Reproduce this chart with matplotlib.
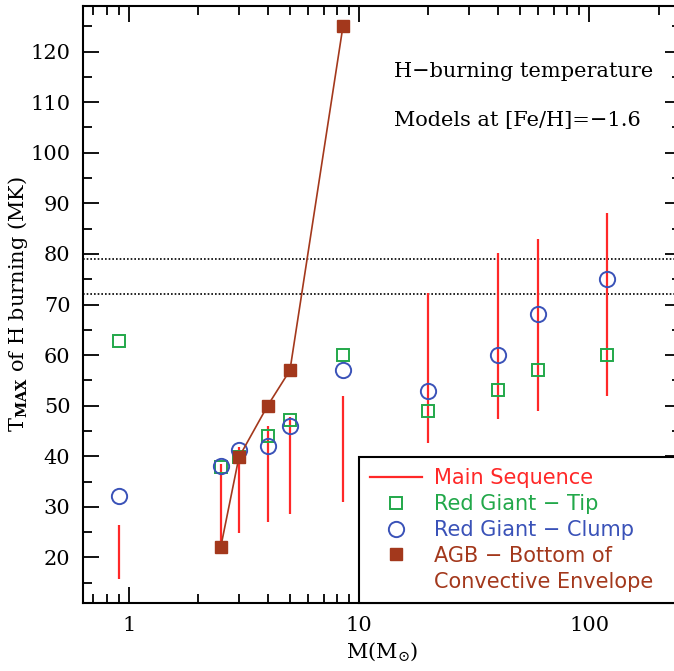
#!/usr/bin/env python3
"""H-burning temperature vs. stellar mass for [Fe/H]=-1.6 models."""

import matplotlib

matplotlib.use("Agg")
import matplotlib.pyplot as plt  # noqa: E402
from matplotlib.lines import Line2D  # noqa: E402
from matplotlib.ticker import FixedLocator, NullFormatter  # noqa: E402

# masses (Msun)
mass = [0.9, 2.5, 3.0, 4.0, 5.0, 8.5, 20.0, 40.0, 60.0, 120.0]

# main sequence T range (MK)
ms_low = [15.8, 22.0, 24.9, 27.1, 28.5, 30.9, 42.7, 47.3, 49.0, 52.0]
ms_high = [26.5, 38.4, 41.9, 45.9, 47.7, 52.0, 72.2, 80.1, 83.0, 88.0]

# red giant tip and clump
rgb_tip = [62.7, 37.8, 39.8, 44.1, 47.1, 60.1, 49.0, 53.1, 57.0, 60.1]
rgb_clump = [32.1, 38.0, 41.2, 42.0, 45.9, 57.0, 53.0, 60.1, 68.2, 75.1]

# AGB bottom of convective envelope
agb_mass = [2.5, 3.0, 4.0, 5.0, 8.5]
agb_temp = [22.0, 39.8, 50.0, 57.0, 125.0]

# reference temperatures (dotted lines)
ref_temps = [79.0, 72.0]

RED = "#ff2828"
GREEN = "#22a84a"
BLUE = "#3a52b8"
BROWN = "#a3381c"

plt.rcParams["mathtext.fontset"] = "dejavuserif"

fig = plt.figure(figsize=(6.74, 6.71), dpi=100)
ax = fig.add_axes([0.1231, 0.1013, 0.887, 0.8897])

for t in ref_temps:
    ax.axhline(t, color="black", lw=1.2, ls=(0, (1, 1.2)), zorder=1)

ax.vlines(mass, ms_low, ms_high, color=RED, lw=1.6, zorder=2)
ax.plot(mass, rgb_tip, ls="none", marker="s", ms=8, mfc="none",
        mec=GREEN, mew=1.4, zorder=3)
ax.plot(mass, rgb_clump, ls="none", marker="o", ms=11, mfc="none",
        mec=BLUE, mew=1.4, zorder=3)
ax.plot(agb_mass, agb_temp, color=BROWN, lw=1.2, marker="s", ms=8.5,
        mfc=BROWN, mec=BROWN, zorder=4)

ax.set_xscale("log")
ax.set_xlim(0.63, 250)
ax.set_ylim(11, 129)

serif = ["DejaVu Serif"]
ax.yaxis.set_major_locator(FixedLocator(range(20, 130, 10)))
ax.yaxis.set_minor_locator(FixedLocator(range(15, 130, 5)))
ax.xaxis.set_major_locator(FixedLocator([1, 10, 100]))
ax.set_xticklabels(["1", "10", "100"])
ax.xaxis.set_minor_formatter(NullFormatter())

ax.tick_params(which="both", direction="in", top=True, right=True,
               width=1.3, labelsize=15, pad=9)
ax.tick_params(which="major", length=11.5)
ax.tick_params(which="minor", length=6.5)
for lab in ax.get_xticklabels() + ax.get_yticklabels():
    lab.set_family(serif)
for sp in ax.spines.values():
    sp.set_linewidth(1.5)

ax.set_ylabel(r"T$_{\mathbf{MAX}}$ of H burning (MK)", family=serif,
              fontsize=15, labelpad=0)
ax.set_xlabel(r"M(M$_{\odot}$)", family=serif, fontsize=15, labelpad=4)

ax.text(0.52, 0.891, "H\u2212burning temperature", transform=ax.transAxes,
        family=serif, fontsize=15, va="center", ha="left")
ax.text(0.52, 0.808, "Models at [Fe/H]=\u22121.6", transform=ax.transAxes,
        family=serif, fontsize=15, va="center", ha="left")

handles = [
    Line2D([], [], color=RED, lw=1.6),
    Line2D([], [], ls="none", marker="s", ms=8, mfc="none", mec=GREEN, mew=1.4),
    Line2D([], [], ls="none", marker="o", ms=11, mfc="none", mec=BLUE, mew=1.4),
    Line2D([], [], ls="none", marker="s", ms=8.5, mfc=BROWN, mec=BROWN),
    Line2D([], [], ls="none"),
]
labels = ["Main Sequence", "Red Giant \u2212 Tip", "Red Giant \u2212 Clump",
          "AGB \u2212 Bottom of", "Convective Envelope"]
leg = ax.legend(handles, labels, loc="lower left",
                bbox_to_anchor=(0.4615, 0.0, 0.6, 0.25), mode="expand",
                borderaxespad=0, frameon=True, fancybox=False,
                edgecolor="black", framealpha=1,
                labelcolor=[RED, GREEN, BLUE, BROWN, BROWN],
                prop={"family": "DejaVu Sans", "size": 15},
                handlelength=2.5, handletextpad=0.55, labelspacing=0.28,
                borderpad=0.55)
leg.get_frame().set_linewidth(1.5)

fig.savefig("out.png", dpi=100)
